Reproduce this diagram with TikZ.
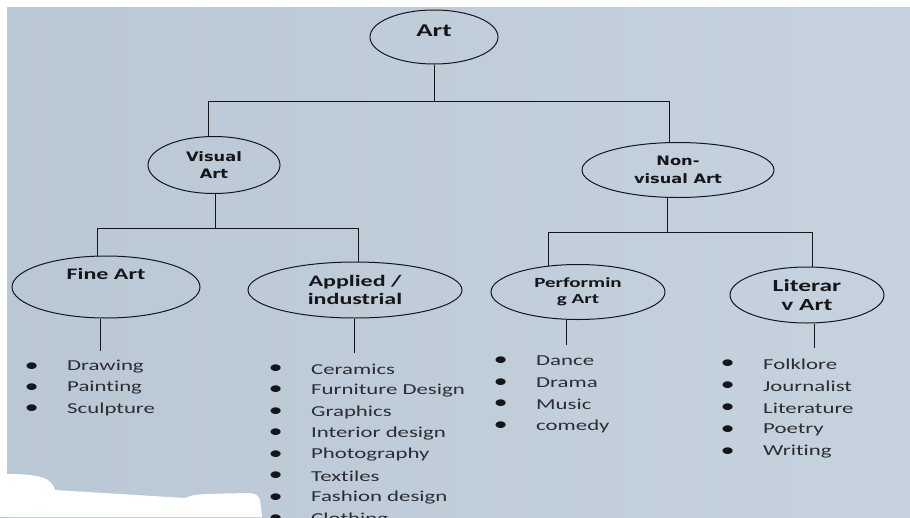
\documentclass[tikz,border=0pt]{standalone}
\usepackage{fontspec}
\setmainfont{Carlito}[FakeStretch=1.5, Ligatures=NoCommon]
\newfontfamily\wideface{DejaVu Sans}[FakeStretch=1.25]
\usetikzlibrary{shapes.geometric}

\definecolor{paper}{RGB}{186,199,212}
\definecolor{paperlight}{RGB}{198,211,223}
\definecolor{ink}{RGB}{22,22,26}

\begin{document}
\begin{tikzpicture}[
  x=1pt, y=-1pt,
  bubble/.style={ellipse, draw=ink, line width=1pt, inner sep=0pt, text=ink,
                 align=center, font=\fontsize{16}{18}\selectfont\bfseries},
  wide/.style={font=\fontsize{13}{17.5}\selectfont\wideface\bfseries},
  link/.style={draw=ink, line width=1pt},
  item/.style={anchor=west, inner sep=0pt, text=ink!90,
               font=\fontsize{15.2}{17}\selectfont,
               label={[label distance=28pt, inner sep=0pt, text=ink,
                       font=\fontsize{19}{19}\selectfont]left:\textbullet}},
]
% Coordinate system: pixels of the photo, Y pointing down

% --- Paper ---
\useasboundingbox (0,0) rectangle (910,517);
\clip (0,0) rectangle (910,517);
\shade[left color=paper, right color=paperlight] (0,0) rectangle (910,517);
\fill[white] (0,0) rectangle (910,7);
\fill[white] (0,0) rectangle (7,517);
\fill[white] (7,517) -- (7,474) .. controls (40,474) and (52,478) .. (55,490)
  -- (185,498) .. controls (195,494) .. (250,493)
  .. controls (260,495) .. (262,517) -- cycle;

% --- Top level ---
\node[bubble, minimum width=128pt, minimum height=54pt,
      font=\fontsize{18}{20}\selectfont\bfseries, text depth=12pt] (art) at (434,37) {Art};

% --- Second level ---
\node[bubble, wide, minimum width=132pt, minimum height=57pt] (visual) at (214,165) {Visual\\Art};
\node[bubble, wide, minimum width=192pt, minimum height=55pt] (nonvisual) at (678,170) {Non-\\visual Art};

% --- Third level ---
\node[bubble, minimum width=188pt, minimum height=62pt, text depth=26pt] (fineart) at (106,287) {Fine Art};
\node[bubble, minimum width=214pt, minimum height=56pt] (applied) at (355,290) {Applied /\\industrial};
\node[bubble, minimum width=174pt, minimum height=55pt,
      font=\fontsize{14}{16}\selectfont\bfseries] (performing) at (578,292) {Performin\\g Art};
\node[bubble, minimum width=154pt, minimum height=56pt,
      font=\fontsize{17}{19}\selectfont\bfseries] (literary) at (807,295) {Literar\\v Art};

% --- Connectors: Art ---
\coordinate (artbus) at (434,101);
\coordinate (visbus) at (208,101);
\coordinate (nonbus) at (669,101);
\draw[link] (art) -- (artbus);
\draw[link] (visbus) -- (nonbus);
\draw[link] (visbus) -- (visbus |- visual.north);
\draw[link] (nonbus) -- (nonbus |- nonvisual.north);

% --- Connectors: Visual Art ---
\coordinate (visdrop) at (215,228);
\coordinate (fineup) at (97,228);
\coordinate (applup) at (358,228);
\draw[link] (visdrop |- visual.south) -- (visdrop);
\draw[link] (fineup) -- (applup);
\draw[link, shorten >=-1pt] (fineup) -- (fineup |- fineart.north);
\draw[link] (applup) -- (applup |- applied.north);

% --- Connectors: Non-visual Art ---
\coordinate (nondrop) at (667,232);
\coordinate (perfup) at (548,232);
\coordinate (litup) at (812,232);
\draw[link] (nondrop |- nonvisual.south) -- (nondrop);
\draw[link] (perfup) -- (litup);
\draw[link, shorten >=-2pt] (perfup) -- (perfup |- performing.north);
\draw[link] (litup) -- (litup |- literary.north);

% --- Drops to the lists ---
\coordinate (fineend) at (100,351);
\coordinate (applend) at (354,353);
\coordinate (perfend) at (566,345);
\coordinate (litend) at (814,348);
\draw[link] (fineend |- fineart.south) -- (fineend);
\draw[link] (applend |- applied.south) -- (applend);
\draw[link] (perfend |- performing.south) -- (perfend);
\draw[link] (litend |- literary.south) -- (litend);

% --- Lists ---
\foreach \name [count=\i] in {Drawing,Painting,Sculpture}
  \node[item] (fine-\i) at (67, 346+21*\i) {\name};
\foreach \name [count=\i] in {Ceramics,Furniture Design,Graphics,Interior design,
                              Photography,Textiles,Fashion design,Clothing}
  \node[item] (appl-\i) at (311, 347.5+21.5*\i) {\name};
\foreach \name [count=\i] in {Dance,Drama,Music,comedy}
  \node[item] (perf-\i) at (536, 339.3+21.7*\i) {\name};
\foreach \name [count=\i] in {Folklore,Journalist,Literature,Poetry,Writing}
  \node[item] (lit-\i) at (763, 342+22*\i) {\name};

\end{tikzpicture}
\end{document}
